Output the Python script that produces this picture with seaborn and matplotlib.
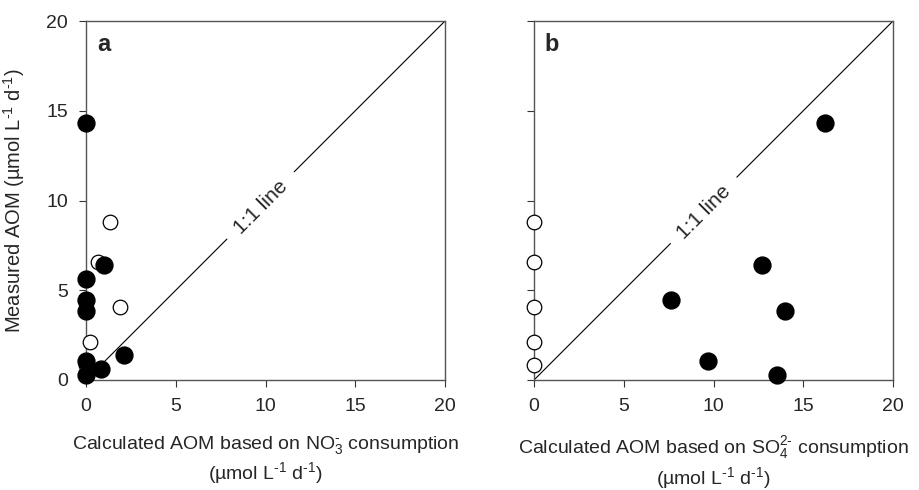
import numpy as np
import pandas as pd
import matplotlib
matplotlib.use("Agg")
import matplotlib.pyplot as plt
import seaborn as sns

# datos panel a (NO3)
a_fill_x = [0, 0, 0, 0, 0, 0, 1.02, 0.84, 2.14]
a_fill_y = [14.3, 5.6, 4.45, 3.84, 1.06, 0.28, 6.4, 0.59, 1.39]
a_open_x = [1.34, 0.69, 1.89, 0.22, 0.0]
a_open_y = [8.81, 6.59, 4.08, 2.13, 0.86]

# datos panel b (SO4)
b_fill_x = [16.2, 12.69, 7.64, 14.0, 9.67, 13.52]
b_fill_y = [14.33, 6.42, 4.47, 3.87, 1.08, 0.30]
b_open_x = [0, 0, 0, 0, 0]
b_open_y = [8.82, 6.59, 4.09, 2.14, 0.86]

panel_letters = ["a", "b"]
units = r"(µmol L$^{\text{-}1}$ d$^{\text{-}1}$)"
xlabels = [r"Calculated AOM based on NO$_3^{\text{-}}$ consumption" + "\n" + units,
           r"Calculated AOM based on SO$_4^{2\text{-}}$ consumption" + "\n" + units]
ylabel = "Measured AOM " + units
ticks = [0, 5, 10, 15, 20]
gaps = [(7.85, 11.6), (7.6, 11.3)]

sns.set_style("ticks")
plt.rcParams["font.family"] = ["Liberation Sans", "DejaVu Sans"]
plt.rcParams["mathtext.fontset"] = "custom"
plt.rcParams["mathtext.rm"] = "Liberation Sans"
plt.rcParams["mathtext.it"] = "Liberation Sans"
plt.rcParams["mathtext.default"] = "rm"

fig = plt.figure(figsize=(9.19, 4.9), dpi=100)
axes = [fig.add_axes([86/919, 1 - 380/490, 359/919, 359/490]),
        fig.add_axes([534/919, 1 - 380/490, 359/919, 359/490])]

data = [(a_fill_x, a_fill_y, a_open_x, a_open_y), (b_fill_x, b_fill_y, b_open_x, b_open_y)]

for i, ax in enumerate(axes):
    fx, fy, ox, oy = data[i]
    df_open = pd.DataFrame({"x": ox, "y": oy})
    df_fill = pd.DataFrame({"x": fx, "y": fy})

    # linea 1:1 con hueco para el texto
    g0, g1 = gaps[i]
    ax.plot([0, g0], [0, g0], color="black", lw=0.8, zorder=1)
    ax.plot([g1, 20], [g1, 20], color="black", lw=0.8, zorder=1)
    ax.text((g0 + g1) / 2, (g0 + g1) / 2 - 0.1, "1:1 line", rotation=45,
            ha="center", va="center", fontsize=15)

    sns.scatterplot(data=df_open, x="x", y="y", ax=ax, s=110, color="white",
                    edgecolor="black", linewidth=0.9, clip_on=False, zorder=3)
    sns.scatterplot(data=df_fill, x="x", y="y", ax=ax, s=150, color="black",
                    edgecolor="black", linewidth=0.9, clip_on=False, zorder=4)

    ax.set_xlim(0, 20)
    ax.set_ylim(0, 20)
    ax.set_xticks(ticks)
    ax.set_yticks(ticks)
    ax.tick_params(direction="out", length=5, width=0.8, labelsize=14, color="#333333", pad=8)
    for s in ax.spines.values():
        s.set_color("#555555")
        s.set_linewidth(1.0)
    ax.set_xlabel(xlabels[i], fontsize=14, labelpad=14, linespacing=1.2)
    ax.text(0.03, 0.935, panel_letters[i], transform=ax.transAxes,
            fontsize=17, fontweight="bold", ha="left", va="center")

axes[0].set_ylabel(ylabel, fontsize=14.5, labelpad=14)
axes[1].set_ylabel("")
axes[1].set_yticklabels([])

fig.savefig("out.png", dpi=100)
